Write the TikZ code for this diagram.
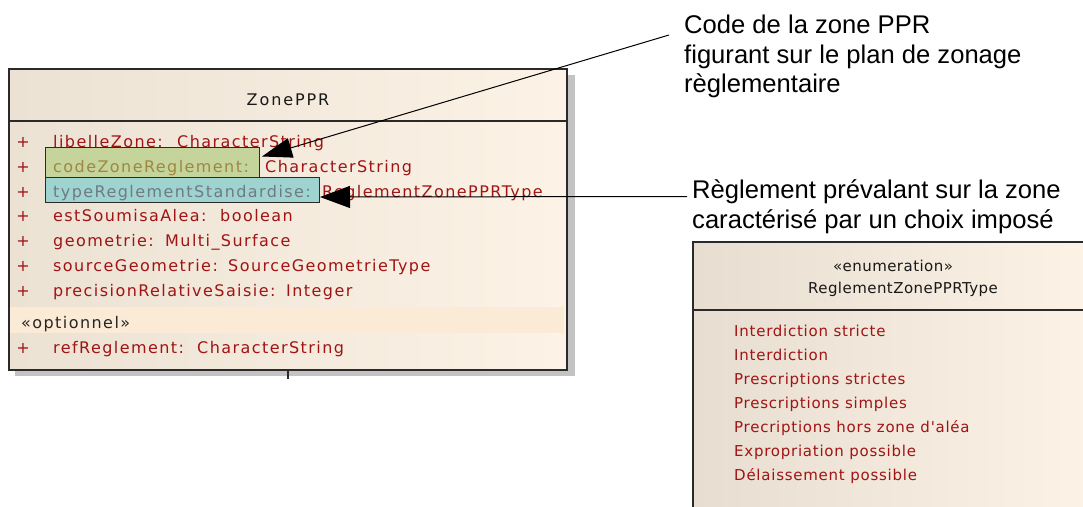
\documentclass[tikz,border=0pt]{standalone}
\usepackage{fontspec}
\setmainfont{Liberation Sans}
\newfontfamily\umlattr[LetterSpace=9]{DejaVu Sans}
\newfontfamily\umltitle[LetterSpace=12]{DejaVu Sans}
\newfontfamily\umlitem[LetterSpace=5]{DejaVu Sans}
\newfontfamily\umlhead[LetterSpace=3]{DejaVu Sans}
\usetikzlibrary{arrows.meta,calc}
\definecolor{attr}{HTML}{A01414}
\definecolor{umlborder}{HTML}{2A2A2A}
\definecolor{bgleft}{HTML}{ECE2D4}
\definecolor{bgright}{HTML}{FCF2E5}
\definecolor{enumleft}{HTML}{E7DDD0}
\definecolor{optband}{HTML}{FBEBD6}
\definecolor{shadowc}{HTML}{C3C3C3}
\definecolor{hlgreenc}{HTML}{C5D49B}
\definecolor{hlgreent}{HTML}{9E8744}
\definecolor{hltealc}{HTML}{9FD3CF}
\definecolor{hltealt}{HTML}{6E7B82}
\tikzset{
  attrtext/.style={anchor=base west, inner sep=0pt, font=\umlattr\fontsize{16}{18}\selectfont, text=attr},
  plussign/.style={anchor=base, inner sep=0pt, font=\umlattr\fontsize{16}{18}\selectfont, text=attr},
  itemtext/.style={anchor=base west, inner sep=0pt, font=\umlitem\fontsize{15}{17}\selectfont, text=attr},
  headtext/.style={anchor=base, inner sep=0pt, font=\umlhead\fontsize{15}{17}\selectfont, text=black!90},
  titletext/.style={anchor=base, inner sep=0pt, font=\umltitle\fontsize{16}{18}\selectfont, text=black!90},
  annot/.style={anchor=base west, inner sep=0pt, font=\fontsize{25.6}{30}\selectfont, text=black},
  hlbox/.style={draw=umlborder, line width=1pt, inner sep=0pt, anchor=north west},
  pointer/.style={draw=black, line width=1pt, -{Triangle[length=30pt,width=20pt]}},
  umlframe/.style={draw=umlborder, line width=1.6pt},
}
\begin{document}
\begin{tikzpicture}[x=1pt,y=-1pt]
\useasboundingbox (0,0) rectangle (1083,506);
\fill[white] (0,0) rectangle (1083,506);

% ---------- ZonePPR class ----------
\fill[shadowc] (15,75) rectangle (575,376);
\path[left color=bgleft, right color=bgright] (9,69) rectangle (567,370);
\fill[optband] (10,307) rectangle (564,333);
\draw[umlframe] (9,69) rectangle (567,370);
\draw[umlframe] (9,121) -- (567,121);
\coordinate (zstub) at (288,370);
\coordinate (zstubend) at (288,379);
\draw[line width=1.4pt, umlborder] (zstub) -- (zstubend);

\node[titletext] (ztitle) at (288,105) {ZonePPR};

\node[plussign] (p1) at (23,147) {+};
\node[plussign] (p2) at (23,172) {+};
\node[plussign] (p3) at (23,197) {+};
\node[plussign] (p4) at (23,221) {+};
\node[plussign] (p5) at (23,246) {+};
\node[plussign] (p6) at (23,271) {+};
\node[plussign] (p7) at (23,296) {+};
\node[plussign] (p8) at (23,353) {+};

\node[attrtext] (n1) at (53,147) {libelleZone:};
\node[attrtext] (t1) at (177,147) {CharacterString};
\node[attrtext] (t2) at (265,172) {CharacterString};
\node[attrtext] (t3) at (322,197) {ReglementZonePPRType};
\node[attrtext] (n4) at (53,221) {estSoumisaAlea:};
\node[attrtext] (t4) at (220,221) {boolean};
\node[attrtext] (n5) at (53,246) {geometrie:};
\node[attrtext] (t5) at (165,246) {Multi\_Surface};
\node[attrtext] (n6) at (53,271) {sourceGeometrie:};
\node[attrtext] (t6) at (228,271) {SourceGeometrieType};
\node[attrtext] (n7) at (53,296) {precisionRelativeSaisie:};
\node[attrtext] (t7) at (286,296) {Integer};
\node[attrtext, text=black!85] (opt) at (21,328) {«optionnel»};
\node[attrtext] (n8) at (53,353) {refReglement:};
\node[attrtext] (t8) at (197,353) {CharacterString};

% highlighted attributes
\node[hlbox, fill=hlgreenc, minimum width=214pt, minimum height=30pt] (codebox) at (45,147) {};
\node[attrtext, text=hlgreent] (n2) at (53,172) {codeZoneReglement:};
\node[hlbox, fill=hltealc, minimum width=274pt, minimum height=25pt] (typebox) at (45,177) {};
\node[attrtext, text=hltealt] (n3) at (53,197) {typeReglementStandardise:};

% ---------- Enumeration ----------
\path[left color=enumleft, right color=bgright] (693,242) rectangle (1090,512);
\draw[umlframe] (1090,242) -- (693,242) -- (693,512);
\draw[umlframe] (693,310) -- (1090,310);
\node[headtext] (estereo) at (893,271) {«enumeration»};
\node[headtext] (ename) at (903,293) {ReglementZonePPRType};
\node[itemtext] (e1) at (734,336) {Interdiction stricte};
\node[itemtext] (e2) at (734,360) {Interdiction};
\node[itemtext] (e3) at (734,384) {Prescriptions strictes};
\node[itemtext] (e4) at (734,408) {Prescriptions simples};
\node[itemtext] (e5) at (734,432) {Precriptions hors zone d'aléa};
\node[itemtext] (e6) at (734,456) {Expropriation possible};
\node[itemtext] (e7) at (734,480) {Délaissement possible};

% ---------- Annotations ----------
\node[annot] (a1l1) at (684,33) {Code de la zone PPR};
\node[annot] (a1l2) at (684,63) {figurant sur le plan de zonage};
\node[annot] (a1l3) at (684,92) {règlementaire};
\node[annot] (a2l1) at (692,198) {Règlement prévalant sur la zone};
\node[annot] (a2l2) at (692,228) {caractérisé par un choix imposé};

\coordinate (c1) at (669,35);
\coordinate (c2) at (687,196.5);
\draw[pointer] (c1) -- ($(codebox.east)+(2,-6)$);
\draw[pointer, -{Triangle[length=30pt,width=22pt]}] (c2) -- ($(typebox.east)+(0,7)$);
\end{tikzpicture}
\end{document}
